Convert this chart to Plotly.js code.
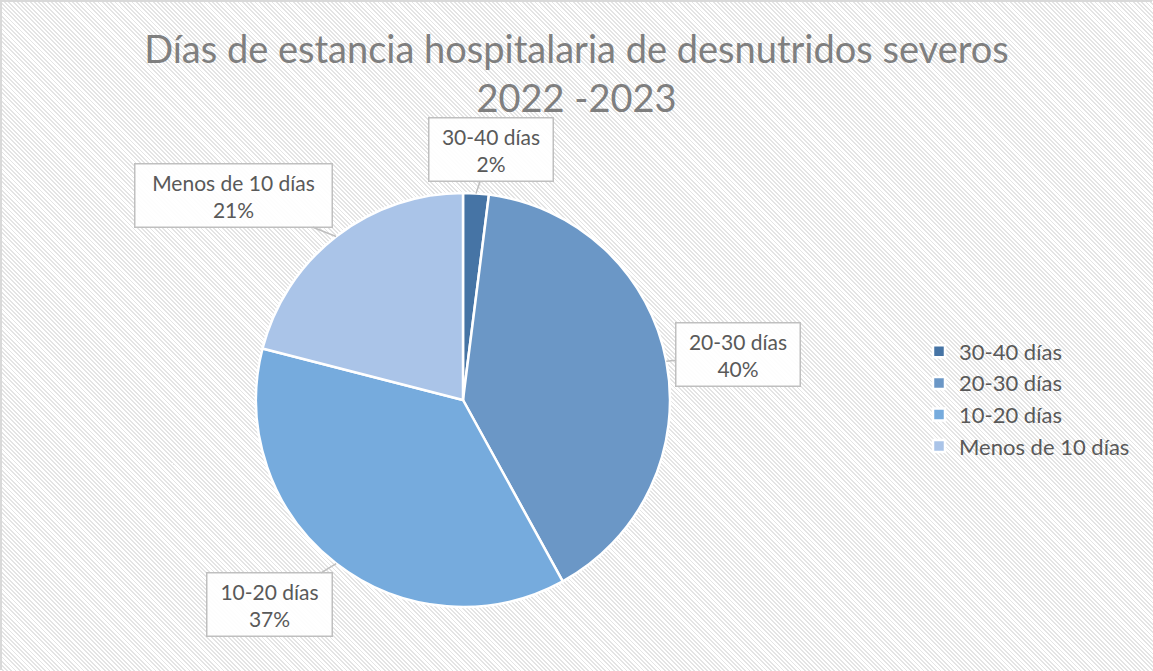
<!DOCTYPE html>
<html>
<head>
<meta charset="utf-8">
<script src="https://cdn.plot.ly/plotly-3.0.1.min.js"></script>
<style>
html,body{margin:0;padding:0;}
body{width:1153px;height:671px;overflow:hidden;
background:repeating-linear-gradient(45deg,#ffffff 0px,#ffffff 1.7px,#e4e4e4 1.7px,#e4e4e4 3px);}
#frame{position:absolute;left:0;top:0;width:1150px;height:668px;border:2px solid #d9d9d9;border-right:none;border-bottom:none;}
#chart{position:absolute;left:0;top:0;width:1153px;height:671px;}
</style>
</head>
<body>
<div id="frame"></div>
<div id="chart"></div>
<script>
const categories = ["30-40 días", "20-30 días", "10-20 días", "Menos de 10 días"];
const percentages = [2, 40, 37, 21];
const colors = ["#4674A5", "#6B97C6", "#76ABDD", "#AAC4E8"];

const W = 1153, H = 671;
// pie geometry in pixels
const cx = 463, cy = 400, R = 207;
// label box offsets (pixels, from leader tip to box centre) and widths
const boxOffsets = [[15, -44], [72, -7], [-67, 41], [-103, -41]];
const boxWidths = [113, 113, 114, 186];

const total = percentages.reduce((a, b) => a + b, 0);
let cum = 0;
const annotations = categories.map((c, i) => {
  const mid = (cum + percentages[i] / 2) / total * 2 * Math.PI;
  cum += percentages[i];
  const px = cx + R * Math.sin(mid);
  const py = cy - R * Math.cos(mid);
  return {
    xref: 'paper', yref: 'paper',
    x: px / W, y: 1 - py / H,
    ax: boxOffsets[i][0], ay: boxOffsets[i][1],
    text: c + '<br>' + Math.round(percentages[i] / total * 100) + '%',
    showarrow: true, arrowhead: 0, arrowwidth: 1.5, arrowcolor: '#bfbfbf',
    bgcolor: 'rgba(255,255,255,0.92)', bordercolor: '#bfbfbf', borderwidth: 1.5,
    borderpad: 5, width: boxWidths[i], align: 'center',
    font: {family: 'Lato, "Open Sans", sans-serif', size: 21, color: '#595959'}
  };
});

const data = [{
  type: 'pie',
  labels: categories,
  values: percentages,
  sort: false,
  direction: 'clockwise',
  rotation: 0,
  textinfo: 'none',
  hoverinfo: 'label+percent',
  marker: {colors: colors, line: {color: '#ffffff', width: 2.5}},
  domain: {x: [(cx - R) / W, (cx + R) / W], y: [1 - (cy + R) / H, 1 - (cy - R) / H]}
}];

const layout = {
  width: W, height: H,
  margin: {l: 0, r: 0, t: 0, b: 0},
  paper_bgcolor: 'rgba(0,0,0,0)',
  plot_bgcolor: 'rgba(0,0,0,0)',
  title: {
    text: 'Días de estancia hospitalaria de desnutridos severos<br>2022 -2023',
    x: 0.5, xanchor: 'center', y: 1 - 63 / H, yanchor: 'middle',
    font: {family: 'Lato, "Open Sans", sans-serif', size: 38, color: '#7f7f7f'}
  },
  showlegend: true,
  legend: {
    x: 919 / W, xanchor: 'left', y: 1 - 399 / H, yanchor: 'middle',
    bgcolor: 'rgba(0,0,0,0)',
    font: {family: 'Lato, "Open Sans", sans-serif', size: 22, color: '#595959'},
    itemwidth: 30
  },
  annotations: annotations
};

Plotly.newPlot('chart', data, layout, {displayModeBar: false, staticPlot: true});
</script>
</body>
</html>
